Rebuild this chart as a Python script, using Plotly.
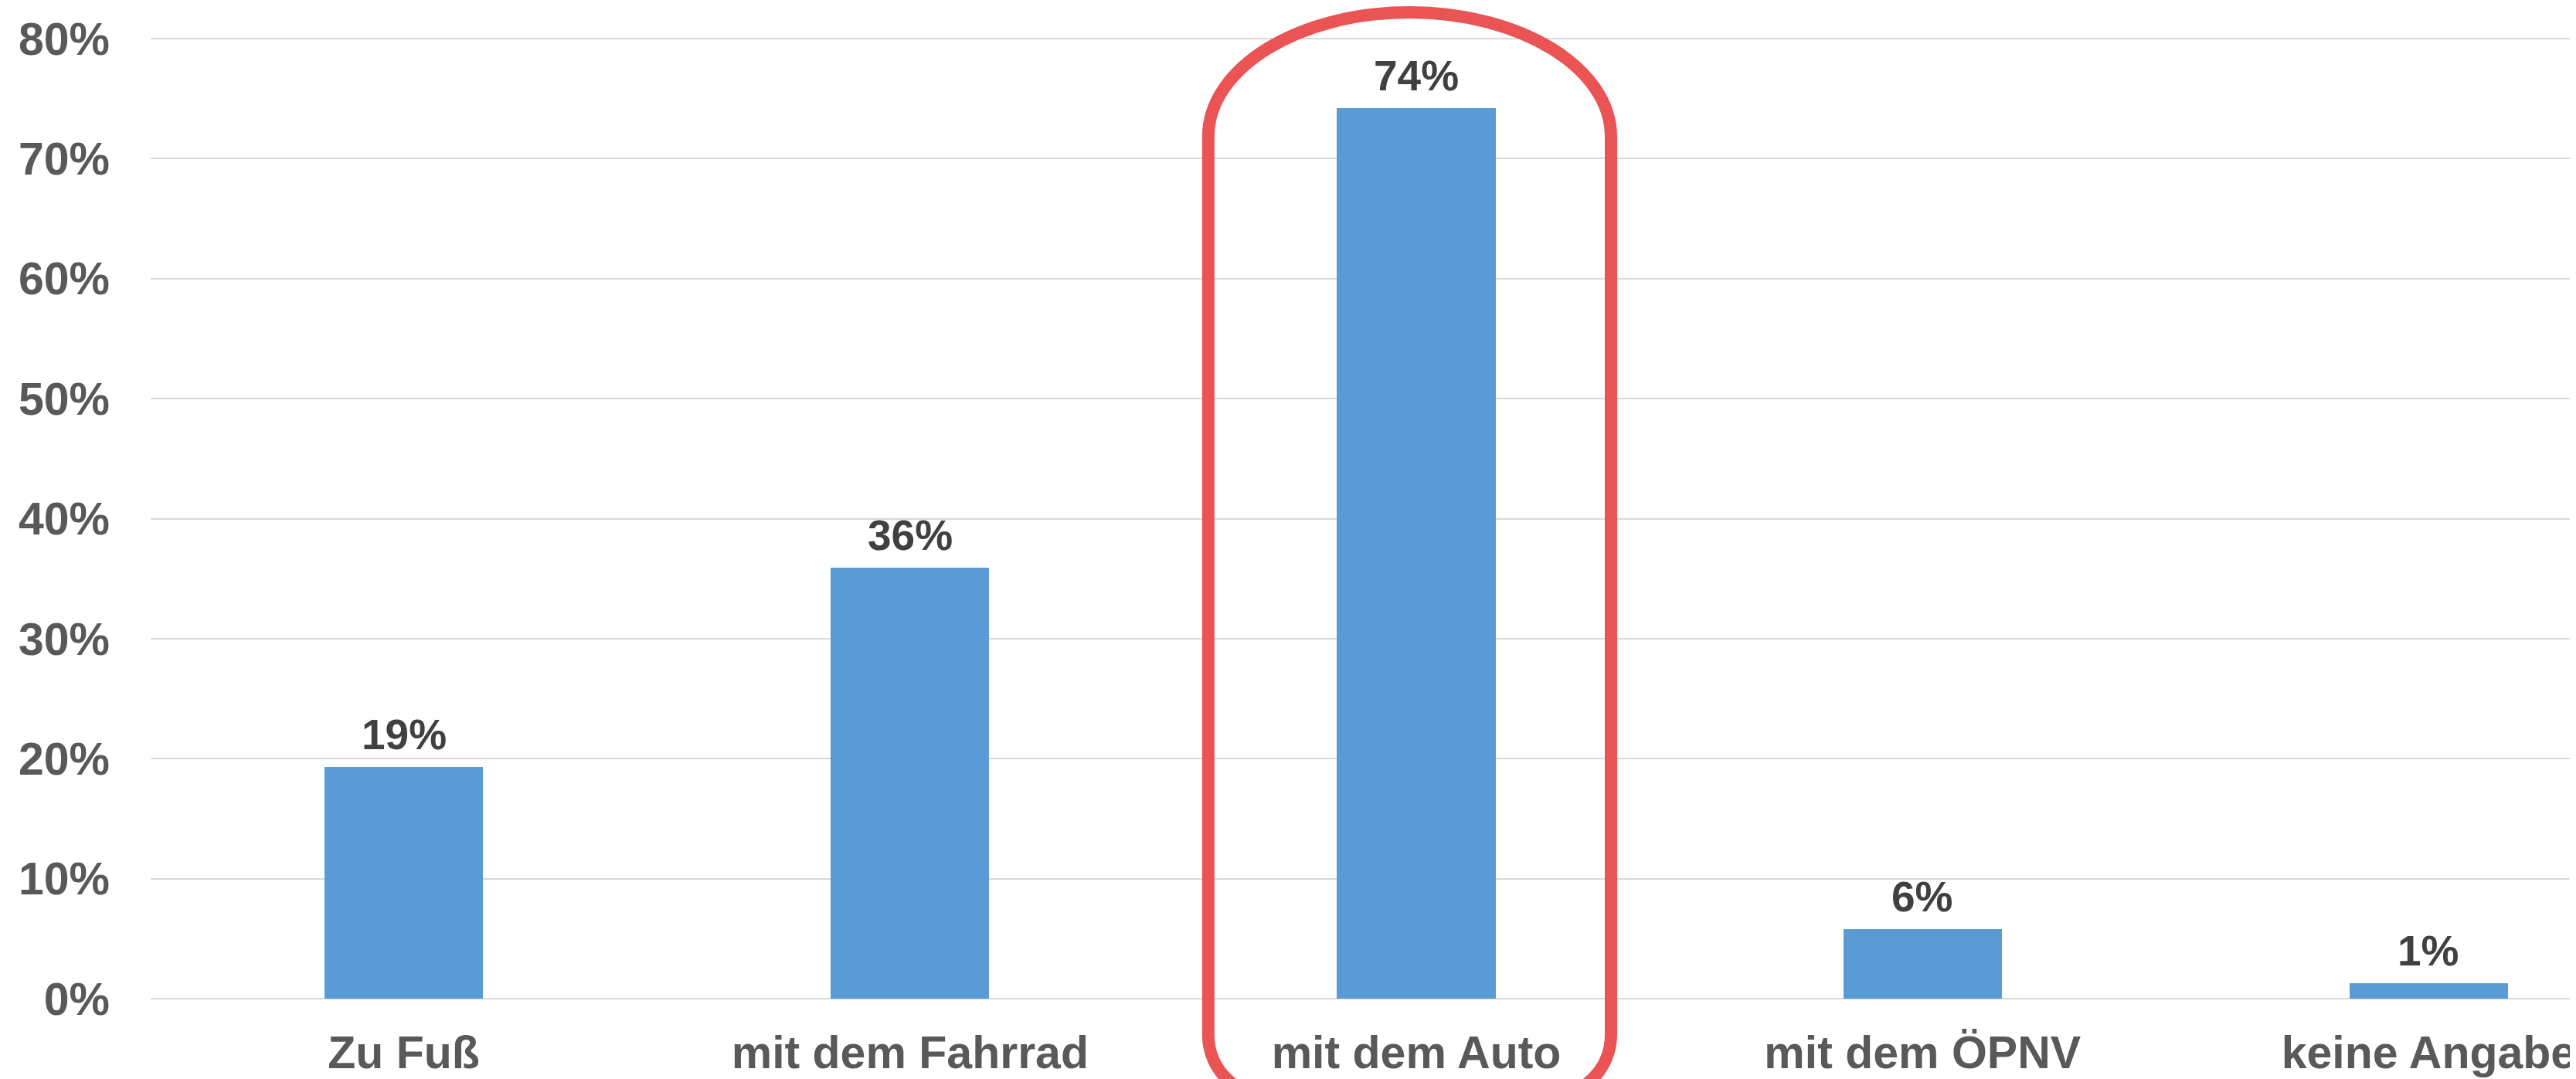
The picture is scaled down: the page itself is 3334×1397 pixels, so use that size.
import plotly.graph_objects as go

categories = ["Zu Fuß", "mit dem Fahrrad", "mit dem Auto", "mit dem ÖPNV", "keine Angabe"]
values = [19.3, 35.9, 74.2, 5.8, 1.3]
tick_vals = [0, 10, 20, 30, 40, 50, 60, 70, 80]
tick_text = ["0%", "10%", "20%", "30%", "40%", "50%", "60%", "70%", "80%"]
labels = [f"{round(v)}%" for v in values]

# page body has an 8px margin; design coordinates below are in window pixels
OFF = 8
WIN_W, WIN_H = 3334, 1397
W, H = WIN_W - OFF, WIN_H - OFF
PLOT_LEFT, PLOT_TOP, PLOT_BOTTOM = 195, 40, 1293.3   # window px
ML = PLOT_LEFT - OFF
MT = PLOT_TOP - OFF
MB = H - (PLOT_BOTTOM - OFF)
MR = 0
PW, PH = W - ML - MR, H - MT - MB
CAT_PX = 656.25
PX_PER_UNIT = 15.54

x_idx = list(range(len(categories)))

fig = go.Figure()
fig.add_trace(go.Bar(
    x=x_idx, y=values, width=0.313,
    marker=dict(color="#5B9BD5", line=dict(width=0)),
    hoverinfo="skip", cliponaxis=False,
))

for xi, v, t in zip(x_idx, values, labels):
    fig.add_annotation(
        x=xi, y=v, text=t, showarrow=False, yanchor="bottom", yshift=9,
        font=dict(family="Liberation Sans, Arial, sans-serif", size=55, color="#404040", weight="bold"),
    )

# red rounded highlight outline (window pixel design -> paper coords)
def px(xp):
    return (xp - PLOT_LEFT) / PW

def py(yp):
    return (PLOT_BOTTOM - yp) / PH

L, R, T = 1566, 2088, 16
top_straight = 177
bot_straight = 1340
rb = 80
k = 0.5523
cx = (L + R) / 2
rx = (R - L) / 2
ry = top_straight - T
bottom = bot_straight + rb

path = (
    f"M {px(L)},{py(bot_straight)} "
    f"L {px(L)},{py(top_straight)} "
    f"C {px(L)},{py(top_straight - k*ry)} {px(cx - k*rx)},{py(T)} {px(cx)},{py(T)} "
    f"C {px(cx + k*rx)},{py(T)} {px(R)},{py(top_straight - k*ry)} {px(R)},{py(top_straight)} "
    f"L {px(R)},{py(bot_straight)} "
    f"C {px(R)},{py(bot_straight + k*rb)} {px(R - rb + k*rb)},{py(bottom)} {px(R - rb)},{py(bottom)} "
    f"L {px(L + rb)},{py(bottom)} "
    f"C {px(L + rb - k*rb)},{py(bottom)} {px(L)},{py(bot_straight + k*rb)} {px(L)},{py(bot_straight)} Z"
)
fig.add_shape(type="path", path=path, xref="paper", yref="paper",
              line=dict(color="#EA5455", width=16), layer="above")

fig.update_layout(
    width=W, height=H,
    margin=dict(l=ML, r=MR, t=MT, b=MB, pad=0),
    paper_bgcolor="white", plot_bgcolor="white",
    showlegend=False,
    bargap=0,
)
fig.update_xaxes(
    range=[-0.5, -0.5 + PW / CAT_PX],
    tickmode="array", tickvals=x_idx, ticktext=categories,
    showgrid=False, zeroline=False, showline=False, ticks="",
    ticklabelstandoff=30, ticklabeloverflow="allow",
    tickfont=dict(family="Liberation Sans, Arial, sans-serif", size=59, color="#595959", weight="bold"),
)
fig.update_yaxes(
    range=[0, PH / PX_PER_UNIT],
    tickmode="array", tickvals=tick_vals, ticktext=tick_text,
    showgrid=True, gridcolor="#D9D9D9", gridwidth=2,
    zeroline=True, zerolinecolor="#D9D9D9", zerolinewidth=2,
    showline=False, ticks="",
    ticklabelstandoff=52, ticklabeloverflow="allow",
    tickfont=dict(family="Liberation Sans, Arial, sans-serif", size=59, color="#595959", weight="bold"),
)

fig.write_html("out.html")
